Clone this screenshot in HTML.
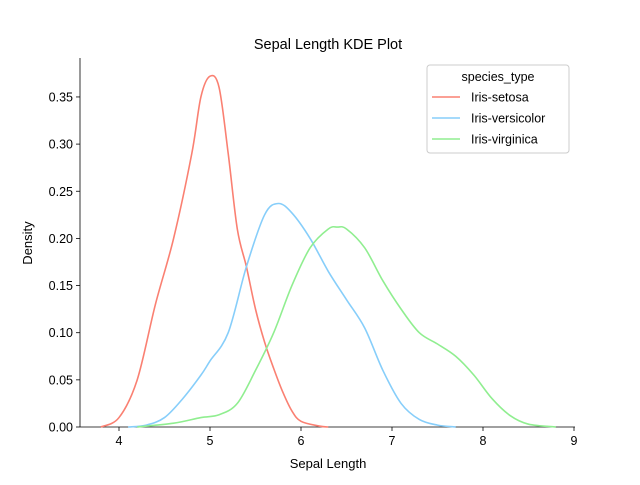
<!DOCTYPE html>
<html><head><meta charset="utf-8"><style>
body{margin:0;background:#fff;}
svg{font-family:"Liberation Sans","DejaVu Sans",sans-serif;}
</style></head><body>
<svg id="chart" width="640" height="480" viewBox="0 0 640 480">
<text x="328" y="49" font-size="14.5" text-anchor="middle">Sepal Length KDE Plot</text>
<g id="xticks"></g>
<g id="yticks"></g>
<g id="curves"></g>
<text x="328" y="468" font-size="13" text-anchor="middle">Sepal Length</text>
<text x="32" y="243" font-size="13" text-anchor="middle" transform="rotate(-90 32 243)">Density</text>
<g id="legend"></g>
</svg>
<script>
const xTicks=[4,5,6,7,8,9];
const yTicks=[0,0.05,0.10,0.15,0.20,0.25,0.30,0.35];
const yTickLabels=["0.00","0.05","0.10","0.15","0.20","0.25","0.30","0.35"];
const seriesNames=["Iris-setosa","Iris-versicolor","Iris-virginica"];
const seriesColors=["#fa8072","#87cefa","#90ee90"];
const setosaX=[3.8,4.0,4.2,4.4,4.6,4.8,4.9,5.0,5.1,5.2,5.3,5.4,5.5,5.6,5.7,5.8,5.9,6.0,6.2,6.3];
const setosaY=[0,0.01,0.05,0.13,0.2,0.29,0.35,0.372,0.36,0.29,0.21,0.17,0.125,0.09,0.062,0.037,0.017,0.006,0.001,0];
const versiX=[4.1,4.3,4.5,4.7,4.9,5.0,5.2,5.4,5.6,5.75,5.9,6.1,6.3,6.5,6.7,6.9,7.1,7.3,7.5,7.7];
const versiY=[0,0.002,0.01,0.03,0.055,0.07,0.1,0.17,0.225,0.237,0.227,0.2,0.165,0.135,0.105,0.06,0.025,0.008,0.002,0];
const virgX=[4.2,4.6,4.9,5.1,5.3,5.5,5.7,5.9,6.1,6.3,6.4,6.5,6.7,6.9,7.1,7.3,7.5,7.7,7.9,8.1,8.3,8.5,8.8];
const virgY=[0,0.004,0.01,0.013,0.025,0.06,0.1,0.15,0.19,0.21,0.212,0.21,0.19,0.155,0.125,0.1,0.088,0.075,0.055,0.03,0.012,0.003,0];
const L=80,R=575,T=58,B=427;
const xs=v=>119+(v-4)*91;
const ys=v=>B-v*943;
const NS="http://www.w3.org/2000/svg";
function mk(tag,attrs,parent){const e=document.createElementNS(NS,tag);for(const k in attrs)e.setAttribute(k,attrs[k]);parent.appendChild(e);return e;}
const svg=document.getElementById('chart');
const xg=document.getElementById('xticks'),yg=document.getElementById('yticks');
const ax1=mk('line',{x1:L,y1:T,x2:L,y2:B,stroke:'#000','stroke-width':0.8},yg);


const ax2=mk('line',{x1:L,y1:B,x2:R,y2:B,stroke:'#000','stroke-width':0.8},xg);


xTicks.forEach(t=>{const x=xs(t);
 mk('line',{x1:x,y1:B,x2:x,y2:B+4,stroke:'#000','stroke-width':0.8},xg);
 const tx=mk('text',{x:x,y:B+18,'font-size':12.5,'text-anchor':'middle'},xg);tx.textContent=t;
 
 });
yTicks.forEach((t,i)=>{const y=ys(t);
 mk('line',{x1:L-4,y1:y,x2:L,y2:y,stroke:'#000','stroke-width':0.8},yg);
 const tx=mk('text',{x:L-7,y:y+4.5,'font-size':12.5,'text-anchor':'end'},yg);tx.textContent=yTickLabels[i];
 
 });
function path(X,Y){const p=X.map((x,i)=>[xs(x),ys(Y[i])]);let d=`M${p[0][0]},${p[0][1]}`;
 for(let i=0;i<p.length-1;i++){const p0=p[i-1]||p[i],p1=p[i],p2=p[i+1],p3=p[i+2]||p2;
 d+=` C${p1[0]+(p2[0]-p0[0])/6},${p1[1]+(p2[1]-p0[1])/6} ${p2[0]-(p3[0]-p1[0])/6},${p2[1]-(p3[1]-p1[1])/6} ${p2[0]},${p2[1]}`;}return d;}
const cg=document.getElementById('curves');
const data=[[setosaX,setosaY],[versiX,versiY],[virgX,virgY]];
const cnames=['setosa-curve','versicolor-curve','virginica-curve'];
data.forEach((s,i)=>{const pe=mk('path',{d:path(s[0],s[1]),fill:'none',stroke:seriesColors[i],'stroke-width':1.6},cg);
 
 });
const lg=document.getElementById('legend');
mk('rect',{x:427,y:65,width:142,height:88,rx:3,fill:'#fff',stroke:'#ccc','stroke-width':1},lg);
const lt=mk('text',{x:498,y:81,'font-size':12.5,'text-anchor':'middle'},lg);lt.textContent='species_type';


seriesNames.forEach((n,i)=>{const y=97+i*21;
 mk('line',{x1:432,y1:y,x2:460,y2:y,stroke:seriesColors[i],'stroke-width':1.6},lg);
 const t=mk('text',{x:471,y:y+4.5,'font-size':12.5},lg);t.textContent=n;
 
 });
</script>
</body></html>
